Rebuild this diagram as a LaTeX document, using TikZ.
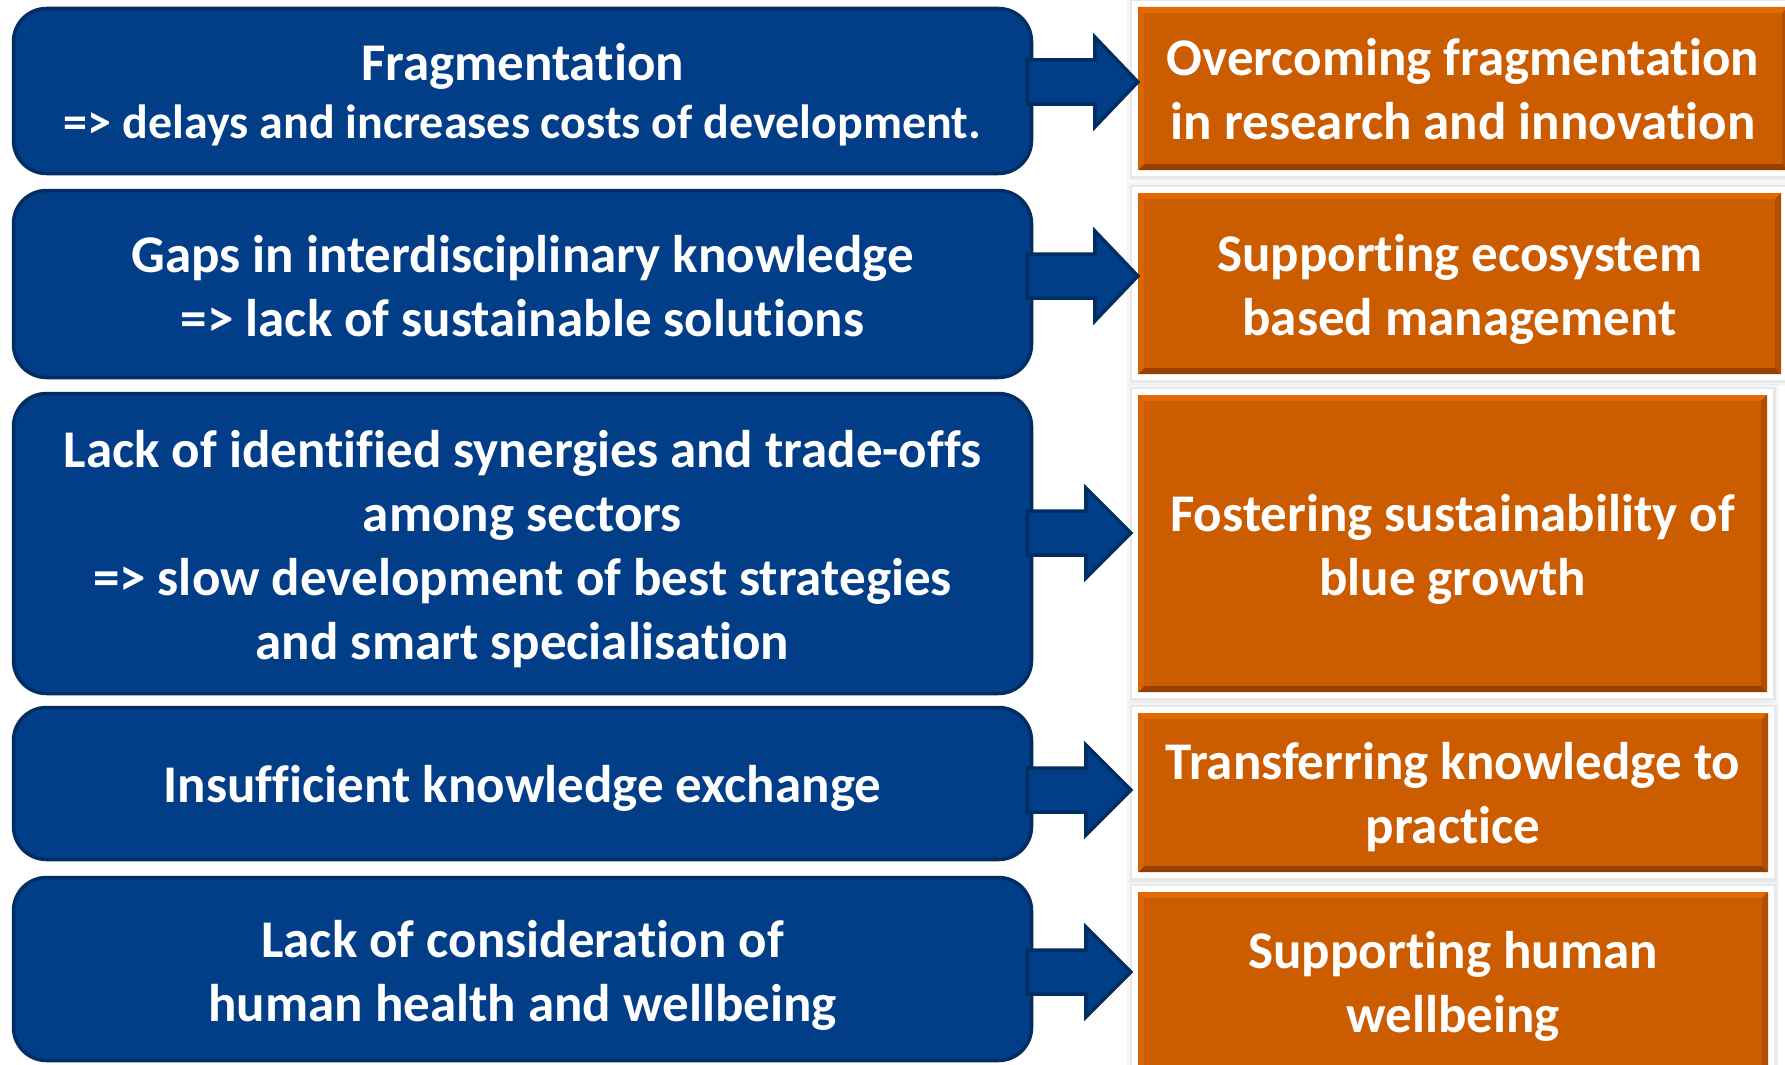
\documentclass[tikz,border=0pt]{standalone}
\usepackage{fontspec}
\setmainfont{Carlito}[Ligatures=NoCommon, RawFeature={-clig;-dlig}]
\usetikzlibrary{calc}
\definecolor{bfill}{RGB}{1,62,135}
\definecolor{bline}{RGB}{0,45,98}
\definecolor{ofill}{RGB}{204,92,0}
\definecolor{olight}{RGB}{226,106,4}
\definecolor{odark}{RGB}{150,64,0}
\definecolor{oright}{RGB}{178,78,0}
\tikzset{
  bluebox/.style={draw=bline, line width=3.5pt, fill=bfill, rounded corners=33pt, inner sep=0pt},
  boxtext/.style={text=white, align=center, inner sep=0pt,
    font=\fontsize{53}{64}\selectfont\bfseries},
  orangebox/.style={fill=ofill, inner sep=0pt,
    preaction={draw=black, opacity=0.04, line width=22pt},
    preaction={draw=black, opacity=0.05, line width=17pt},
    preaction={draw=white, line width=12pt},
    path picture={
      \fill[olight] (path picture bounding box.north west) -- (path picture bounding box.north east)
        -- ([xshift=-6pt,yshift=-6pt]path picture bounding box.north east)
        -- ([xshift=6pt,yshift=-6pt]path picture bounding box.north west) -- cycle;
      \fill[odark] (path picture bounding box.south west) -- (path picture bounding box.south east)
        -- ([xshift=-6pt,yshift=6pt]path picture bounding box.south east)
        -- ([xshift=6pt,yshift=6pt]path picture bounding box.south west) -- cycle;
      \fill[oright] (path picture bounding box.north east) -- (path picture bounding box.south east)
        -- ([xshift=-6pt,yshift=6pt]path picture bounding box.south east)
        -- ([xshift=-6pt,yshift=-6pt]path picture bounding box.north east) -- cycle;
      \fill[olight!60!ofill] (path picture bounding box.north west) -- (path picture bounding box.south west)
        -- ([xshift=6pt,yshift=6pt]path picture bounding box.south west)
        -- ([xshift=6pt,yshift=-6pt]path picture bounding box.north west) -- cycle;
    }},
  barrow/.style={draw=bline, line width=3.5pt, fill=bfill, line join=miter}
}
\newcommand\flowarrow[3]{%
  \draw[barrow] let \p1=(#1), \p2=(#2) in
    (\x1,\y1+22pt) -- (\x2-#3,\y1+22pt) -- (\x2-#3,\y1+45pt) -- (\x2,\y1)
    -- (\x2-#3,\y1-45pt) -- (\x2-#3,\y1-22pt) -- (\x1,\y1-22pt) -- cycle;}
\begin{document}
\begin{tikzpicture}[x=1pt,y=-1pt]
\useasboundingbox[fill=white] (0,0) rectangle (1785,1065);
% problem boxes
\node[bluebox, minimum width=1018pt, minimum height=165pt] (b1) at (522.5,91) {};
\node[bluebox, minimum width=1018pt, minimum height=187pt] (b2) at (522.5,284) {};
\node[bluebox, minimum width=1018pt, minimum height=300pt] (b3) at (522.5,543.5) {};
\node[bluebox, minimum width=1018pt, minimum height=152pt] (b4) at (522.5,783.5) {};
\node[bluebox, minimum width=1018pt, minimum height=183pt] (b5) at (522.5,969) {};
\node[boxtext, font=\fontsize{53}{58}\selectfont\bfseries] (b1t) at ([yshift=-4pt]b1.center)
  {Fragmentation\\{\fontsize{48}{58}\selectfont => delays and increases costs of development.}};
\node[boxtext] (b2t) at ([yshift=-2pt]b2.center)
  {Gaps in interdisciplinary knowledge\\=> lack of sustainable solutions};
\node[boxtext] (b3t) at ([yshift=-6pt]b3.center)
  {Lack of identified synergies and trade-offs\\among sectors\\=> slow development of best strategies\\and smart specialisation};
\node[boxtext] (b4t) at ([yshift=-5pt]b4.center)
  {Insufficient knowledge exchange};
\node[boxtext] (b5t) at ([yshift=-6pt]b5.center)
  {Lack of consideration of\\human health and wellbeing};
% goal boxes
\node[orangebox, minimum width=650pt, minimum height=163pt] (o1) at (1463,88.5) {};
\node[orangebox, minimum width=643pt, minimum height=181pt] (o2) at (1459.5,283.5) {};
\node[orangebox, minimum width=629pt, minimum height=297pt] (o3) at (1452.5,543.5) {};
\node[orangebox, minimum width=630pt, minimum height=159pt] (o4) at (1453,792.5) {};
\node[orangebox, minimum width=630pt, minimum height=190pt] (o5) at (1453,987) {};
\node[boxtext] (o1t) at ([yshift=-1pt]o1.center)
  {Overcoming fragmentation\\in research and innovation};
\node[boxtext] (o2t) at ([yshift=-6pt]o2.center)
  {Supporting ecosystem\\based management};
\node[boxtext] (o3t) at ([yshift=-6pt]o3.center)
  {Fostering sustainability of\\blue growth};
\node[boxtext] (o4t) at ([yshift=-5pt]o4.center)
  {Transferring knowledge to\\practice};
\node[boxtext] (o5t) at ([yshift=1pt]o5.center)
  {Supporting human\\wellbeing};
% arrows
\coordinate (s1) at ($(b1.east|-0,82)+(-6,0)$);
\coordinate (s2) at ($(b2.east|-0,276)+(-6,0)$);
\coordinate (s3) at ($(b3.east|-0,533)+(-6,0)$);
\coordinate (s4) at ($(b4.east|-0,790)+(-6,0)$);
\coordinate (s5) at ($(b5.east|-0,972)+(-6,0)$);
\coordinate (t1) at (o1.west|-s1);
\coordinate (t2) at (o2.west|-s2);
\coordinate (t3) at ($(o3.west|-s3)+(-7,0)$);
\coordinate (t4) at ($(o4.west|-s4)+(-7,0)$);
\coordinate (t5) at ($(o5.west|-s5)+(-7,0)$);
\flowarrow{s1}{t1}{43pt}
\flowarrow{s2}{t2}{43pt}
\flowarrow{s3}{t3}{45pt}
\flowarrow{s4}{t4}{45pt}
\flowarrow{s5}{t5}{45pt}
\end{tikzpicture}
\end{document}
